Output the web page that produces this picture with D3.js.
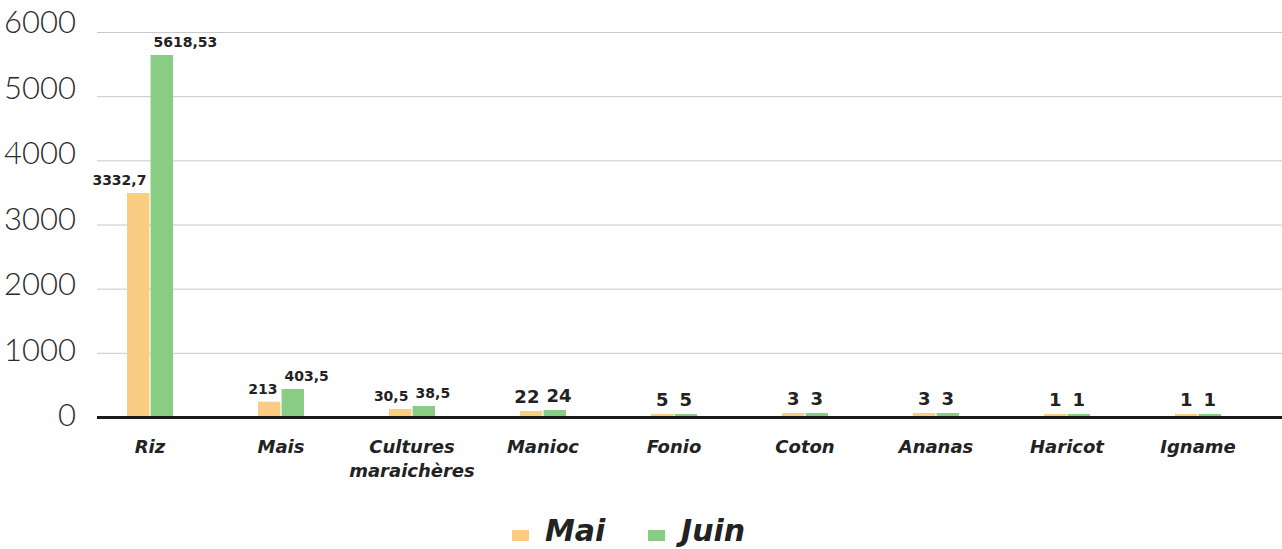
<html>
<head>
    <script src="https://d3js.org/d3.v7.min.js"></script>
    <style>
        body { margin: 0; background: #fff; }
        .gridlines line { stroke: #c8c8c8; stroke-width: 1px; }
        .gridlines .domain { stroke: none; }
        .yaxis text { font-family: Lato, sans-serif; font-weight: 300; font-size: 31px; fill: #2a2a2a; }
        .cat { font-family: "DejaVu Sans", sans-serif; font-weight: bold; font-style: italic; font-size: 18px; fill: #222; }
        .vlabel { font-family: "DejaVu Sans", sans-serif; font-weight: bold; fill: #222; }
    </style>
</head>
<body>
    <svg id="chart" width="1282" height="549"></svg>

    <script>
        // categories and series
        const categories = ["Riz", "Mais", "Cultures maraichères", "Manioc", "Fonio", "Coton", "Ananas", "Haricot", "Igname"];
        const series = ["Mai", "Juin"];
        // bar heights as drawn in the picture
        const maiValues  = [3490, 238, 125, 94, 47, 62, 62, 47, 47];
        const juinValues = [5642, 436, 171, 109, 47, 62, 62, 47, 47];
        // label texts shown above bars
        const maiLabels  = ["3332,7", "213", "30,5", "22", "5", "3", "3", "1", "1"];
        const juinLabels = ["5618,53", "403,5", "38,5", "24", "5", "3", "3", "1", "1"];
        const yTicks = [0, 1000, 2000, 3000, 4000, 5000, 6000];
        const colors = ["#FACD82", "#89CC84"];

        const svg = d3.select("#chart");
        const plotLeft = 97, plotRight = 1282;
        const yTop = 32, yBottom = 417;

        const x = d3.scaleBand().domain(categories).range([84.5, 1263.5]).padding(0);
        const sub = d3.scaleBand().domain(series).range([-23, 23]).paddingInner(0.05);
        const y = d3.scaleLinear().domain([0, 6000]).range([yBottom, yTop]);
        // tick labels sit on a slightly taller scale than the gridlines
        const yLab = d3.scaleLinear().domain([0, 6000]).range([426, 33]);
        const color = d3.scaleOrdinal().domain(series).range(colors);

        // gridlines
        svg.append("g")
            .attr("class", "gridlines")
            .attr("transform", "translate(" + plotLeft + ",0)")
            .call(d3.axisLeft(y).tickValues(yTicks).tickSize(-(plotRight - plotLeft)).tickFormat(""));

        // y tick labels
        svg.append("g")
            .attr("class", "yaxis")
            .selectAll("text").data(yTicks)
            .join("text")
            .attr("x", 76)
            .attr("y", d => yLab(d))
            .attr("text-anchor", "end")
            .text(d => d);

        const rows = categories.map((c, i) => ({
            cat: c,
            bars: [
                { s: "Mai", v: maiValues[i], label: maiLabels[i] },
                { s: "Juin", v: juinValues[i], label: juinLabels[i] }
            ]
        }));

        const groups = svg.append("g").selectAll("g.cat-group").data(rows)
            .join("g")
            .attr("class", "cat-group")
            .attr("transform", d => "translate(" + (x(d.cat) + x.bandwidth() / 2) + ",0)");

        groups.selectAll("rect").data(d => d.bars)
            .join("rect")
            .attr("x", d => sub(d.s))
            .attr("width", sub.bandwidth())
            .attr("y", d => y(d.v))
            .attr("height", d => yBottom - y(d.v))
            .attr("fill", d => color(d.s));

        // labels: single digits centred, longer ones pushed outward
        groups.selectAll("text").data(d => d.bars)
            .join("text")
            .attr("class", "vlabel")
            .attr("x", d => {
                if (d.label.length === 1) return sub(d.s) + sub.bandwidth() / 2;
                return d.s === "Mai" ? sub(d.s) + sub.bandwidth() - 3 : sub(d.s) + 3;
            })
            .attr("y", d => y(d.v) - 8)
            .attr("text-anchor", d => d.label.length === 1 ? "middle" : (d.s === "Mai" ? "end" : "start"))
            .style("font-size", d => d.label.length <= 2 ? "18px" : "14px")
            .text(d => d.label);

        // x axis line
        svg.append("line")
            .attr("x1", plotLeft).attr("x2", plotRight)
            .attr("y1", yBottom + 0.5).attr("y2", yBottom + 0.5)
            .attr("stroke", "#1a1a1a")
            .attr("stroke-width", 3);

        // category labels
        const catText = svg.append("g").selectAll("text").data(categories)
            .join("text")
            .attr("class", "cat")
            .attr("text-anchor", "middle")
            .attr("x", d => x(d) + x.bandwidth() / 2)
            .attr("y", 453);
        catText.each(function (d) {
            const words = d.split(" ");
            d3.select(this).selectAll("tspan").data(words)
                .join("tspan")
                .attr("x", x(d) + x.bandwidth() / 2)
                .attr("dy", (w, i) => i === 0 ? 0 : 24)
                .text(w => w);
        });

        // legend
        const legend = svg.append("g").attr("transform", "translate(512,530)");
        const items = legend.selectAll("g").data(series)
            .join("g")
            .attr("transform", (d, i) => "translate(" + (i * 136) + ",0)");
        items.append("rect")
            .attr("width", 17).attr("height", 11)
            .attr("fill", d => color(d));
        items.append("text")
            .attr("x", 33).attr("y", 11)
            .style("font-family", "'DejaVu Sans', sans-serif")
            .style("font-weight", "bold")
            .style("font-style", "italic")
            .style("font-size", "30px")
            .style("fill", "#222")
            .text(d => d);
    </script>
</body>
</html>
